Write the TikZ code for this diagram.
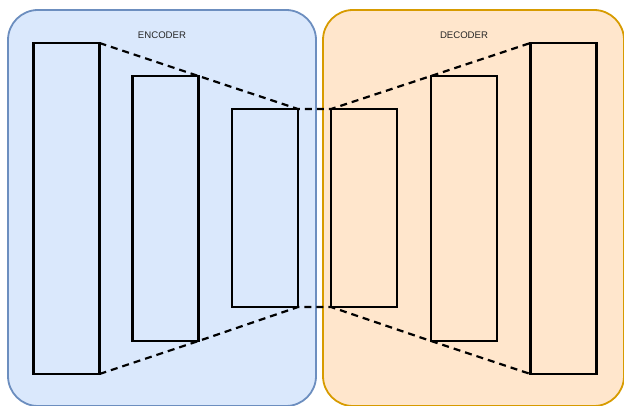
\documentclass[tikz,border=0pt]{standalone}
\usepackage{fontspec}
\setmainfont{Liberation Sans}
\definecolor{encfill}{HTML}{DAE8FC}
\definecolor{encline}{HTML}{6C8EBF}
\definecolor{decfill}{HTML}{FFE6CC}
\definecolor{decline}{HTML}{D79B00}
\begin{document}
\begin{tikzpicture}[x=1pt,y=-1pt,
  panel/.style={line width=1.8pt, rounded corners=30pt},
  layer/.style={draw=black, line width=2.2pt, inner sep=0pt, outer sep=0pt, minimum width=66pt},
  link/.style={line width=2.2pt, dash pattern=on 7pt off 5pt},
  title/.style={font=\fontsize{9.6}{11}\selectfont, text=black!85}]
\useasboundingbox (0,0) rectangle (624,406);
\draw[panel, draw=encline, fill=encfill] (8,10) rectangle (316,406);
\draw[panel, draw=decline, fill=decfill] (323,10) rectangle (624,406);
\node[title] (enc) at (162,35) {ENCODER};
\node[title] (dec) at (464,35) {DECODER};
\node[layer, minimum height=331pt] (e1) at (66.5,208.5) {};
\node[layer, minimum height=265pt] (e2) at (165.5,208.5) {};
\node[layer, minimum height=198pt] (e3) at (265,208) {};
\node[layer, minimum height=198pt] (d1) at (364,208) {};
\node[layer, minimum height=265pt] (d2) at (464,208.5) {};
\node[layer, minimum height=331pt] (d3) at (563.5,208.5) {};
\draw[link] (e1.north east) -- (e2.north east) -- (e3.north east) -- (d1.north west) -- (d2.north west) -- (d3.north west);
\draw[link] (e1.south east) -- (e2.south east) -- (e3.south east) -- (d1.south west) -- (d2.south west) -- (d3.south west);
\end{tikzpicture}
\end{document}
